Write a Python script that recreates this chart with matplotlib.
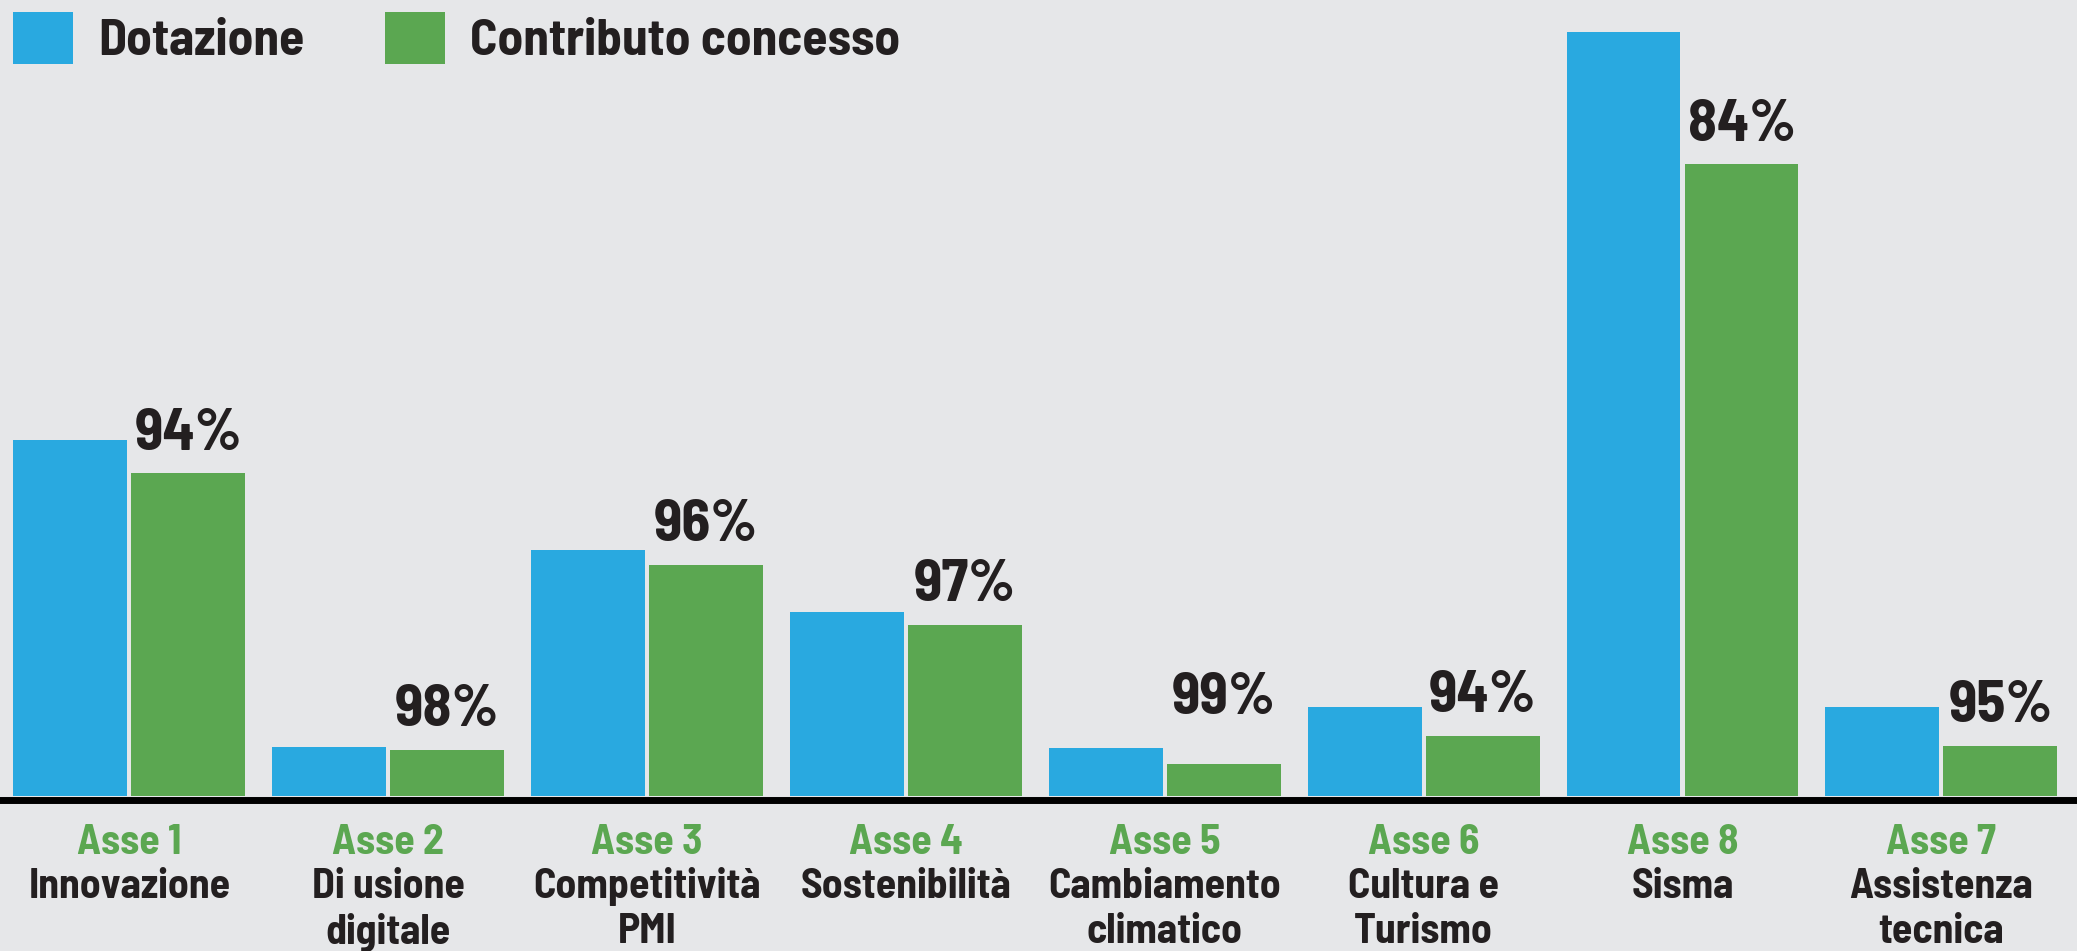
import numpy as np
import matplotlib
matplotlib.use("Agg")
from matplotlib import pyplot as plt
from matplotlib import font_manager as fm
from matplotlib import patheffects as pe

# data (mln euro)
assi = ['Asse 1', 'Asse 2', 'Asse 3', 'Asse 4', 'Asse 5', 'Asse 6', 'Asse 8', 'Asse 7']
nomi = ['Innovazione', 'Di usione\ndigitale', 'Competitività\nPMI', 'Sostenibilità',
        'Cambiamento\nclimatico', 'Cultura e\nTurismo', 'Sisma', 'Assistenza\ntecnica']
dotazione = [115.6, 15.9, 79.9, 59.7, 15.6, 28.9, 248.0, 28.9]
contributo = [104.8, 14.9, 75.0, 55.5, 10.4, 19.5, 205.1, 16.2]
percentuali = [94, 98, 96, 97, 99, 94, 84, 95]

blu = '#29A9E0'
verde = '#5BA751'
sfondo = '#E6E7E9'
testo = '#231F20'


def peso(f):
    w = f.weight
    if isinstance(w, str):
        w = fm.weight_dict.get(w, 400)
    return w


# the original uses a condensed bold face: look for one, semi-condensed first
stretti = [f for f in fm.fontManager.ttflist
           if any(s in f.name for s in ('Narrow', 'Condensed'))
           and not any(s in f.name for s in ('Extra', 'Ultra'))]
grassetti = [f for f in stretti if 600 <= peso(f) <= 700]
grassetti.sort(key=lambda f: (0 if 'Semi' in f.name else 1, f.name))
finto = False
if grassetti:
    famiglia = [grassetti[0].name]
elif stretti:
    famiglia = [stretti[0].name]
    finto = True
else:
    famiglia = ['Roboto']
plt.rcParams['font.family'] = famiglia + ['DejaVu Sans']
plt.rcParams['font.weight'] = 'bold'
semi = 'Semi' in famiglia[0]


def grosso(t, lw):
    # fake bold when only the regular condensed face exists
    if finto:
        t.set_path_effects([pe.withStroke(linewidth=lw, foreground=t.get_color())])


fig = plt.figure(figsize=(20.77, 9.51), dpi=100, facecolor=sfondo)
ax = fig.add_axes([0, 148 / 951, 1, 803 / 951])
ax.set_facecolor(sfondo)

k = 248.0 / 764  # mln per pixel, only used for the axis limits
x = np.arange(len(assi))
w = 0.44
b1 = ax.bar(x - 0.228, dotazione, w, color=blu, label='Dotazione')
b2 = ax.bar(x + 0.228, contributo, w, color=verde, label='Contributo concesso')

ax.set_xlim(-0.5, 7.524)
ax.set_ylim(-7 * k, 796 * k)
ax.axhline(-3.5 * k, color='black', lw=5.0, clip_on=False)

fs_perc = 42.5 if semi else 44
fs_cat = 30 if semi else 31
fs_leg = 37 if semi else 38

# percent labels over the green bars
extra = {4: 26}
for i, (v, p) in enumerate(zip(contributo, percentuali)):
    t = ax.annotate('%d%%' % p, (x[i] + 0.228, v), xytext=(0, 17 + extra.get(i, 0) * 0.72),
                    textcoords='offset points', ha='center', va='baseline',
                    fontsize=fs_perc, color=testo, fontweight='bold')
    grosso(t, 2.6)

# category labels below the axis
for i in range(len(assi)):
    t = ax.annotate(assi[i], (x[i], 0), xycoords=('data', 'axes fraction'),
                    xytext=(0, -51 * 0.72), textcoords='offset points',
                    ha='center', va='baseline', fontsize=fs_cat, color=verde,
                    fontweight='bold', annotation_clip=False)
    grosso(t, 1.8)
    for j, riga in enumerate(nomi[i].split('\n')):
        t = ax.annotate(riga, (x[i], 0), xycoords=('data', 'axes fraction'),
                        xytext=(0, -(95 + 45 * j) * 0.72), textcoords='offset points',
                        ha='center', va='baseline', fontsize=fs_cat, color=testo,
                        fontweight='bold', annotation_clip=False)
        grosso(t, 1.8)

ax.set_xticks([])
ax.set_yticks([])
for s in ax.spines.values():
    s.set_visible(False)

leg = ax.legend(handles=[b1, b2], loc='upper left', ncol=2, frameon=False,
                bbox_to_anchor=(13 / 2077, 1 - 12 / 951), bbox_transform=fig.transFigure,
                borderpad=0, borderaxespad=0, fontsize=fs_leg,
                handlelength=1.2 * 36 / fs_leg, handleheight=1.2 * 36 / fs_leg,
                handletextpad=0.5 * 36 / fs_leg, columnspacing=1.62 * 36 / fs_leg)
for t in leg.get_texts():
    t.set_color(testo)
    grosso(t, 2.3)

fig.savefig('out.png', dpi=100, facecolor=sfondo)
